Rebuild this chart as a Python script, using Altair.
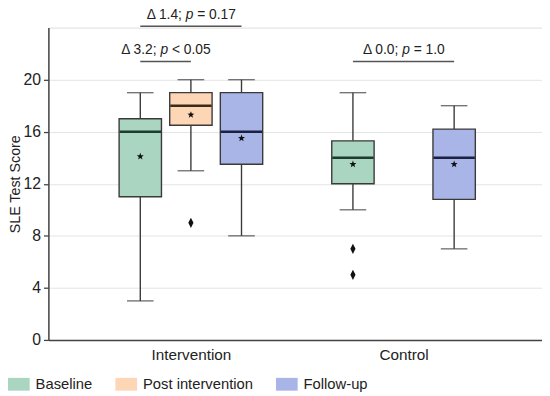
import math
import altair as alt
import pandas as pd

# ---------------- data ----------------
groups = ["Intervention", "Control"]
phases = ["Baseline", "Post intervention", "Follow-up"]

box_group = ["Intervention", "Intervention", "Intervention", "Control", "Control"]
box_phase = ["Baseline", "Post intervention", "Follow-up", "Baseline", "Follow-up"]
box_lower = [3, 13, 8, 10, 7]
box_q1 = [11, 16.5, 13.5, 12, 10.8]
box_median = [16, 18, 16, 14, 14]
box_q3 = [17, 19, 19, 15.3, 16.2]
box_upper = [19, 20, 20, 19, 18]
box_mean = [14.1, 17.3, 15.5, 13.5, 13.5]

out_group = ["Intervention", "Control", "Control"]
out_phase = ["Post intervention", "Baseline", "Baseline"]
out_value = [9, 7, 5]

ann_group = ["Intervention", "Intervention", "Control"]
ann_from = ["Baseline", "Baseline", "Baseline"]
ann_to = ["Follow-up", "Post intervention", "Follow-up"]
ann_delta = ["Δ 1.4;", "Δ 3.2;", "Δ 0.0;"]
ann_op = ["=", "<", "="]
ann_p = ["0.17", "0.05", "1.0"]
ann_level = [24.1, 21.4, 21.4]

# ---------------- style ----------------
fills = ["#a9d5c1", "#fdd6b5", "#aab5e7"]
median_cols = {"Baseline": "#1d3b2e", "Post intervention": "#3b2b1b", "Follow-up": "#1b2140"}
edge = "#3a3a3a"
FONT = "Liberation Sans"
dodge = 0.238

gidx = {g: i + 1 for i, g in enumerate(groups)}
pidx = {p: i - 1 for i, p in enumerate(phases)}


def pos(g, p):
    return gidx[g] + pidx[p] * dodge


boxes = pd.DataFrame({
    "group": box_group, "phase": box_phase, "lower": box_lower, "q1": box_q1,
    "median": box_median, "q3": box_q3, "upper": box_upper, "mean": box_mean,
})
boxes["x"] = [pos(g, p) for g, p in zip(box_group, box_phase)]
boxes["mcol"] = [median_cols[p] for p in box_phase]

outs = pd.DataFrame({"group": out_group, "phase": out_phase, "value": out_value})
outs["x"] = [pos(g, p) for g, p in zip(out_group, out_phase)]

ann = pd.DataFrame({"group": ann_group, "level": ann_level,
                    "delta": ann_delta, "op": ann_op, "p": ann_p})
ann["x1"] = [pos(g, a) for g, a in zip(ann_group, ann_from)]
ann["x2"] = [pos(g, b) for g, b in zip(ann_group, ann_to)]
ann["xc"] = (ann["x1"] + ann["x2"]) / 2

xscale = alt.Scale(domain=[0.353, 2.628], nice=False, zero=False)
yscale = alt.Scale(domain=[0, 24], nice=False)

label_expr = " : ".join(
    [f"datum.value == {gidx[g]} ? '{g}'" for g in groups[:-1]] + [f"'{groups[-1]}'"]
)

X = alt.X("x:Q", scale=xscale, title=None,
          axis=alt.Axis(values=[gidx[g] for g in groups], labelExpr=label_expr,
                        ticks=False, grid=False, labelFontSize=15.5, labelPadding=8,
                        labelColor="#222", domainColor="#444", domainWidth=1.5))
Y_axis = alt.Axis(values=[0, 4, 8, 12, 16, 20], title="SLE Test Score",
                  titleFontSize=14.5, titleFontWeight="normal", titleColor="#222",
                  labelFontSize=16, labelColor="#222", labelPadding=3,
                  tickSize=5, tickColor="#444", tickWidth=1.3,
                  domainColor="#444", domainWidth=1.5,
                  gridColor="#e4e4e4", gridWidth=1, titlePadding=1)

base = alt.Chart(boxes)

whisk_lo = base.mark_rule(color=edge, strokeWidth=1.4).encode(
    x=X, y=alt.Y("lower:Q", scale=yscale, axis=Y_axis), y2="q1:Q")
whisk_hi = base.mark_rule(color=edge, strokeWidth=1.4).encode(
    x="x:Q", y="q3:Q", y2="upper:Q")

rect_path = "M-1,-0.59H1V0.59H-1Z"
box = base.mark_bar(size=43, stroke=edge, strokeWidth=1.4).encode(
    x="x:Q", y="q1:Q", y2="q3:Q",
    color=alt.Color("phase:N", scale=alt.Scale(domain=phases, range=fills),
                    legend=alt.Legend(orient="none", direction="horizontal",
                                      legendX=-41, legendY=351, title=None,
                                      symbolType=rect_path, symbolSize=484,
                                      symbolStrokeWidth=0, symbolOpacity=1,
                                      labelFontSize=15, labelColor="#222",
                                      labelOffset=6, columnPadding=23,
                                      padding=0, labelFont=FONT)))

cap_lo = base.mark_tick(orient="horizontal", size=27, thickness=1.4, color=edge).encode(
    x="x:Q", y="lower:Q")
cap_hi = base.mark_tick(orient="horizontal", size=27, thickness=1.4, color=edge).encode(
    x="x:Q", y="upper:Q")
med = base.mark_tick(orient="horizontal", size=42, thickness=2.6, opacity=1).encode(
    x="x:Q", y="median:Q", color=alt.Color("mcol:N", scale=None))

# star shape for means
pts = []
for k in range(10):
    r = 1.0 if k % 2 == 0 else 0.42
    a = -math.pi / 2 + k * math.pi / 5
    pts.append(f"{r * math.cos(a):.3f},{r * math.sin(a):.3f}")
star_path = "M" + "L".join(pts) + "Z"

means = base.mark_point(shape=star_path, size=55, filled=True, color="#111",
                        opacity=1, strokeWidth=0).encode(x="x:Q", y="mean:Q")

diamond = "M0,-1L0.5,0L0,1L-0.5,0Z"
outl = alt.Chart(outs).mark_point(shape=diamond, size=110, filled=True,
                                  color="#111", opacity=1, strokeWidth=0).encode(
    x="x:Q", y="value:Q")

ann_rule = alt.Chart(ann).mark_rule(color="#555", strokeWidth=1.5).encode(
    x="x1:Q", x2="x2:Q", y="level:Q")

# text pieces (the p is italic)
FS = 14
wt = {"Δ": 0.668, " ": 0.278, ".": 0.278, ";": 0.278, "=": 0.584, "<": 0.584, "p": 0.556}


def tw(s):
    return sum(wt.get(c, 0.556) for c in s) * FS


layers = [whisk_lo, whisk_hi, box, cap_lo, cap_hi, med, outl, means, ann_rule]
sp = tw(" ")
pw = tw("p")
for i in range(len(ann)):
    row = ann.iloc[[i]]
    left = row["delta"].iloc[0]
    right = f"{row['op'].iloc[0]} {row['p'].iloc[0]}"
    total = tw(left) + sp + pw + sp + tw(right)
    poff = -total / 2 + tw(left) + sp
    c = alt.Chart(row)
    common = dict(fontSize=FS, font=FONT, color="#222", baseline="middle", dy=-11.5)
    layers.append(c.mark_text(align="right", dx=poff - sp, **common).encode(
        x="xc:Q", y="level:Q", text="delta:N"))
    layers.append(c.mark_text(align="left", dx=poff, fontStyle="italic", **common).encode(
        x="xc:Q", y="level:Q", text=alt.value("p")))
    layers.append(c.mark_text(align="left", dx=poff + pw + sp, **common).encode(
        x="xc:Q", y="level:Q", text=alt.value(right)))

chart = alt.layer(*layers).properties(
    width=501, height=317,
    autosize=alt.AutoSizeParams(type="none"),
    padding={"left": 41, "top": 17, "right": 0, "bottom": 54},
).configure_view(stroke=None).configure(font=FONT)

chart.save("out.html", embed_options={"renderer": "svg", "actions": False})
